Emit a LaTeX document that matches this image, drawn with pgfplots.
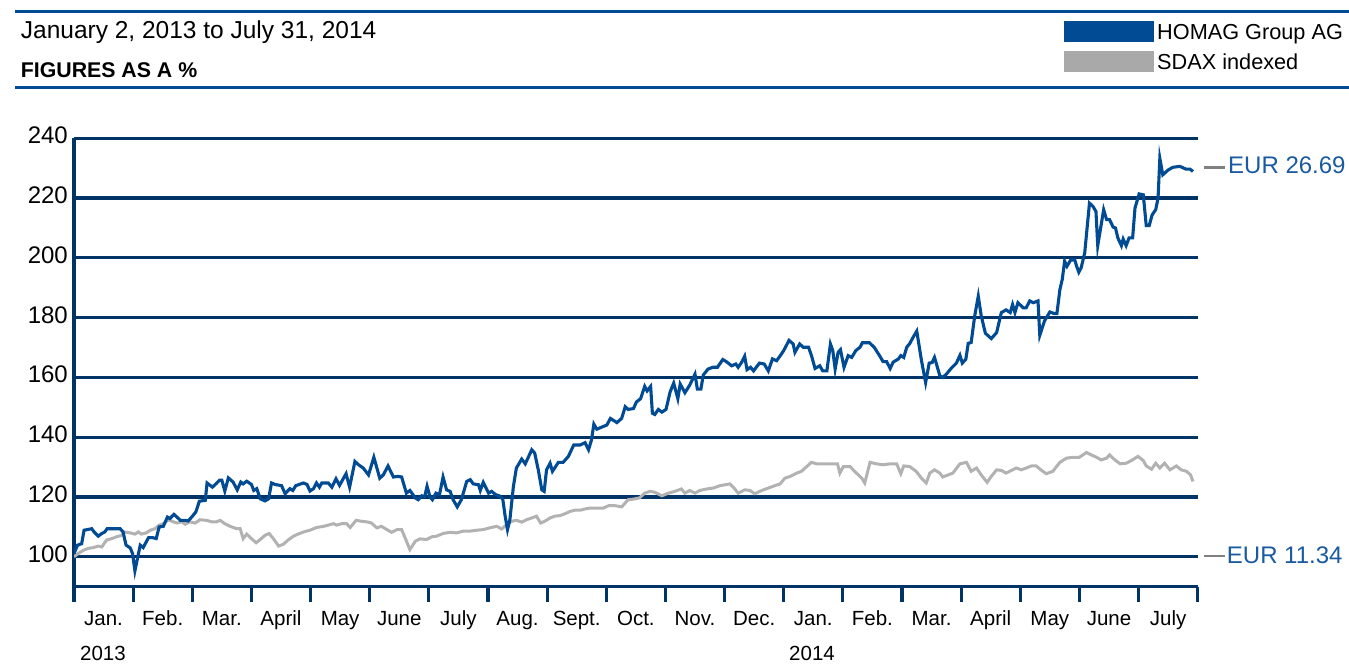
\documentclass[border=0pt]{standalone}
\usepackage{fontspec}
\setmainfont{Liberation Sans}
\usepackage{pgfplots}
\pgfplotsset{compat=1.18}
\definecolor{navy}{RGB}{0,51,102}
\definecolor{hblue}{RGB}{0,75,147}
\definecolor{sgray}{RGB}{178,178,178}
\definecolor{lgray}{RGB}{169,169,169}
\definecolor{eurblue}{RGB}{26,90,160}
\definecolor{dashgray}{RGB}{128,128,128}

\pgfplotstableread{
m v
0 101.1
0.06 103.9
0.13 104.4
0.17 108.9
0.30 109.4
0.34 108.3
0.41 106.9
0.47 107.8
0.52 108.3
0.56 109.4
0.78 109.4
0.83 108.3
0.88 103.9
0.95 103.0
0.99 101.1
1.03 95.3
1.12 103.9
1.17 103.1
1.26 106.4
1.33 106.4
1.39 106.1
1.44 110.0
1.51 110.2
1.58 113.3
1.62 112.8
1.69 114.2
1.74 113.3
1.80 112.2
1.88 112.2
1.93 112.0
1.99 113.3
2.06 115.0
2.12 118.6
2.22 118.9
2.25 124.7
2.34 123.3
2.40 124.4
2.46 125.6
2.50 125.6
2.55 122.0
2.61 126.4
2.69 125.0
2.76 122.4
2.82 125.0
2.86 124.4
2.92 125.3
3.00 124.2
3.04 122.2
3.09 122.8
3.15 119.4
3.23 118.7
3.29 119.4
3.34 124.7
3.40 124.2
3.51 123.8
3.57 121.1
3.65 122.8
3.70 122.2
3.75 123.8
3.88 124.7
3.94 124.2
3.99 122.0
4.05 122.8
4.10 124.7
4.15 123.3
4.19 124.7
4.30 124.7
4.36 123.3
4.43 126.1
4.49 123.9
4.60 127.8
4.66 123.3
4.75 131.9
4.81 130.8
4.89 129.7
4.98 127.4
5.07 133.3
5.17 126.3
5.23 127.4
5.31 130.4
5.40 126.7
5.48 126.9
5.54 126.7
5.62 121.3
5.68 122.2
5.77 119.7
5.82 119.1
5.88 120.4
5.93 120.2
5.97 123.6
6.02 120.0
6.06 119.1
6.12 121.3
6.18 120.8
6.24 126.7
6.30 122.4
6.36 121.9
6.41 119.1
6.48 116.7
6.55 119.1
6.64 125.2
6.70 125.8
6.75 124.4
6.84 124.1
6.87 122.2
6.92 124.9
7.01 121.3
7.06 121.9
7.13 120.8
7.19 120.4
7.25 119.3
7.29 113.6
7.33 109.1
7.37 112.4
7.43 123.6
7.48 129.7
7.57 132.7
7.63 131.1
7.74 135.8
7.79 134.7
7.85 129.1
7.91 122.4
7.95 121.9
7.99 129.1
8.05 131.3
8.09 128.6
8.19 131.6
8.27 131.6
8.36 133.6
8.39 134.9
8.45 137.4
8.56 137.4
8.64 138.2
8.70 135.8
8.75 139.1
8.79 144.4
8.84 142.7
8.95 143.6
9.01 144.1
9.07 146.3
9.18 144.9
9.26 146.3
9.32 150.2
9.37 149.3
9.46 149.6
9.51 151.8
9.58 152.9
9.65 157.0
9.69 155.5
9.75 157.0
9.78 148.0
9.82 147.6
9.88 149.3
9.94 148.4
10.01 149.3
10.08 155.2
10.14 158.1
10.21 152.9
10.25 157.8
10.33 154.9
10.41 157.4
10.50 161.1
10.54 156.1
10.60 156.1
10.64 160.8
10.72 162.8
10.80 163.4
10.88 163.4
10.97 166.0
11.03 165.3
11.12 163.9
11.19 164.5
11.23 163.4
11.29 165.1
11.34 167.1
11.38 162.6
11.44 163.4
11.49 162.2
11.59 164.8
11.67 164.5
11.74 162.2
11.81 166.2
11.88 165.6
11.95 167.5
12.00 169.0
12.09 172.4
12.16 171.2
12.19 168.4
12.27 171.2
12.33 170.1
12.42 170.1
12.47 167.3
12.53 163.0
12.61 163.9
12.66 162.2
12.73 162.2
12.79 171.2
12.83 169.0
12.87 162.8
12.92 168.4
12.96 169.3
13.02 163.4
13.09 167.3
13.15 166.7
13.22 169.0
13.29 170.1
13.33 171.6
13.45 171.6
13.53 170.1
13.62 167.3
13.68 165.3
13.74 165.3
13.80 163.0
13.85 165.1
13.94 166.2
13.98 167.3
14.03 166.7
14.08 170.1
14.13 171.3
14.19 173.5
14.25 175.5
14.33 165.6
14.40 158.3
14.46 164.8
14.51 165.0
14.55 166.7
14.64 160.6
14.69 160.0
14.75 161.1
14.83 163.0
14.92 164.8
14.98 167.4
15.02 164.8
15.08 166.1
15.12 171.4
15.17 171.7
15.23 180.6
15.29 187.2
15.34 180.6
15.41 174.8
15.51 173.0
15.60 175.0
15.68 181.7
15.76 182.6
15.83 181.7
15.87 184.4
15.91 181.7
15.96 185.0
16.05 183.3
16.10 183.3
16.16 185.6
16.22 185.0
16.30 185.6
16.33 174.1
16.41 178.9
16.50 181.9
16.57 181.4
16.62 181.4
16.67 189.4
16.71 192.8
16.75 198.9
16.79 197.2
16.85 199.2
16.92 199.4
16.95 197.4
16.99 195.2
17.03 196.7
17.09 201.7
17.17 218.3
17.23 217.2
17.28 215.5
17.31 204.1
17.41 216.1
17.46 212.8
17.51 212.8
17.57 210.3
17.61 210.0
17.65 206.7
17.71 204.1
17.74 206.3
17.79 204.1
17.84 206.7
17.90 206.7
17.94 216.7
18.01 221.4
18.08 221.1
18.13 210.8
18.18 210.8
18.23 214.4
18.29 216.1
18.33 220.0
18.36 233.3
18.41 227.8
18.50 229.4
18.58 230.3
18.70 230.6
18.80 229.7
18.87 229.7
18.92 228.9
}\homag

\pgfplotstableread{
m v
0 100.0
0.07 101.1
0.16 102.2
0.24 102.8
0.33 103.1
0.41 103.6
0.47 103.3
0.55 105.6
0.64 106.1
0.72 106.7
0.81 107.2
0.86 108.3
0.95 108.0
1.03 107.6
1.09 108.3
1.14 107.6
1.22 108.0
1.29 108.9
1.37 109.4
1.44 110.6
1.51 111.1
1.60 112.4
1.68 111.7
1.74 111.3
1.82 111.7
1.88 110.9
1.96 111.7
2.05 111.3
2.13 112.4
2.24 112.2
2.33 111.7
2.41 111.7
2.47 112.2
2.55 111.1
2.64 110.2
2.75 109.4
2.81 109.4
2.86 106.1
2.92 107.6
3.00 106.1
3.08 104.7
3.15 105.8
3.23 107.2
3.30 107.8
3.37 106.1
3.46 103.6
3.54 104.2
3.62 105.6
3.71 106.9
3.79 107.6
3.88 108.3
3.99 108.9
4.10 109.8
4.22 110.2
4.30 110.6
4.39 111.1
4.44 110.6
4.53 111.1
4.61 111.1
4.67 109.8
4.77 112.2
4.86 111.9
4.98 111.6
5.03 111.3
5.12 109.7
5.20 110.2
5.29 109.1
5.37 108.2
5.46 109.1
5.54 109.1
5.61 105.8
5.68 102.4
5.77 105.2
5.85 106.0
5.96 105.8
6.05 106.7
6.13 106.9
6.24 107.8
6.36 108.2
6.47 108.0
6.58 108.6
6.70 108.6
6.81 108.9
6.92 109.1
7.03 109.7
7.15 110.2
7.23 109.3
7.32 110.8
7.40 111.9
7.48 112.2
7.57 111.6
7.65 112.4
7.74 113.0
7.82 113.6
7.89 111.3
7.96 111.9
8.05 113.0
8.13 113.6
8.22 113.8
8.30 114.4
8.39 115.2
8.47 115.6
8.56 115.6
8.64 116.0
8.72 116.3
8.84 116.3
8.95 116.3
9.04 117.1
9.15 117.1
9.26 116.7
9.37 119.1
9.46 119.3
9.56 119.7
9.65 121.3
9.74 121.9
9.82 121.6
9.94 120.4
10.05 121.3
10.16 121.9
10.27 122.7
10.33 121.3
10.41 122.2
10.50 121.3
10.58 122.2
10.70 122.7
10.81 123.0
10.92 123.8
11.01 124.1
11.09 124.4
11.16 123.0
11.23 121.3
11.34 122.4
11.43 122.2
11.51 121.1
11.63 122.2
11.74 123.0
11.85 123.8
11.94 124.4
12.02 126.3
12.11 126.9
12.22 128.0
12.30 128.6
12.39 130.2
12.47 131.6
12.56 131.1
12.67 131.1
12.81 131.1
12.91 131.1
12.95 128.0
13.01 130.2
13.12 130.2
13.23 128.0
13.32 126.3
13.37 124.7
13.46 131.6
13.57 131.1
13.68 130.8
13.80 131.1
13.91 131.1
13.98 127.8
14.03 130.4
14.13 130.2
14.24 128.6
14.33 126.3
14.41 124.7
14.47 128.0
14.55 129.1
14.64 128.0
14.69 126.7
14.78 127.4
14.86 128.0
14.98 131.1
15.09 131.6
15.17 128.6
15.26 129.7
15.34 127.4
15.44 124.9
15.51 126.9
15.60 129.1
15.68 128.9
15.76 128.0
15.85 128.9
15.93 129.7
16.02 129.1
16.10 129.7
16.19 130.4
16.27 130.4
16.36 128.9
16.44 127.8
16.55 128.6
16.67 131.6
16.78 133.0
16.89 133.3
17.00 133.3
17.12 134.9
17.20 134.1
17.29 133.3
17.37 132.4
17.46 133.0
17.51 134.1
17.60 132.4
17.69 131.1
17.79 131.3
17.88 132.2
17.99 133.6
18.08 132.2
18.13 130.4
18.22 129.3
18.29 131.3
18.36 129.7
18.44 131.3
18.53 129.1
18.64 130.4
18.72 129.1
18.81 128.6
18.88 127.4
18.92 125.2
}\sdax

\begin{document}
\begin{tikzpicture}
\path[use as bounding box] (0,0) rectangle (1349bp,-664bp);
% header rules
\draw[hblue, line width=2.9bp] (15bp,-11.3bp) -- (1349bp,-11.3bp);
\draw[hblue, line width=3.1bp] (15bp,-87.2bp) -- (1349bp,-87.2bp);
% header text
\node[anchor=base west, inner sep=0pt, font=\fontsize{24.5bp}{28bp}\selectfont] at (20.7bp,-38bp) {January 2, 2013 to July 31, 2014};
\node[anchor=base west, inner sep=0pt, font=\fontsize{21.3bp}{24bp}\selectfont\bfseries] at (20.7bp,-77.3bp) {FIGURES AS A \%};
% legend
\fill[hblue] (1064bp,-21bp) rectangle (1154bp,-42bp);
\fill[lgray] (1064bp,-51bp) rectangle (1154bp,-72bp);
\node[anchor=base west, inner sep=0pt, font=\fontsize{21.7bp}{25bp}\selectfont] at (1157bp,-39.3bp) {HOMAG Group AG};
\node[anchor=base west, inner sep=0pt, font=\fontsize{21.7bp}{25bp}\selectfont] at (1157bp,-69.3bp) {SDAX indexed};

\begin{axis}[
  at={(74bp,-586.7bp)}, anchor=south west,
  width=1123.7bp, height=448.4bp, scale only axis,
  xmin=0, xmax=19, ymin=90, ymax=240,
  axis x line=bottom, axis y line=left,
  axis line style={navy, line width=3.2bp, -},
  ytick={100,120,...,240},
  ymajorgrids=true,
  major grid style={navy, line width=3.2bp},
  ytick style={draw=none},
  yticklabel style={anchor=base east, inner sep=0pt, xshift=-6bp, yshift=-5.5bp,
    font=\fontsize{24bp}{28bp}\selectfont},
  /pgf/number format/assume math mode=true,
  xtick={0.5,1.5,...,18.5},
  xticklabels={Jan.,Feb.,Mar.,April,May,June,July,Aug.,Sept.,Oct.,Nov.,Dec.,Jan.,Feb.,Mar.,April,May,June,July},
  major tick length=0pt,
  xticklabel style={anchor=base, inner sep=0pt, yshift=-38.3bp,
    font=\fontsize{20.5bp}{24bp}\selectfont},
  extra x ticks={0,1,...,19},
  extra x tick labels={},
  extra x tick style={tick align=outside, major tick length=15bp,
    xtick style={draw=navy, line width=3.2bp}},
]
\addplot[sgray, line width=3bp] table[x=m, y=v] {\sdax};
\addplot[hblue, line width=3.1bp] table[x=m, y=v] {\homag};
\end{axis}

% year labels
\node[anchor=base, inner sep=0pt, font=\fontsize{20.5bp}{24bp}\selectfont] at (103bp,-660.7bp) {2013};
\node[anchor=base, inner sep=0pt, font=\fontsize{20.5bp}{24bp}\selectfont] at (812bp,-660.7bp) {2014};
% end labels
\draw[dashgray, line width=2.6bp] (1204bp,-167.3bp) -- (1225bp,-167.3bp);
\node[anchor=base west, inner sep=0pt, text=eurblue, font=\fontsize{24bp}{28bp}\selectfont] at (1228bp,-173.3bp) {EUR 26.69};
\draw[dashgray, line width=2.6bp] (1204bp,-556bp) -- (1225bp,-556bp);
\node[anchor=base west, inner sep=0pt, text=eurblue, font=\fontsize{24bp}{28bp}\selectfont] at (1226.7bp,-563.3bp) {EUR 11.34};
\end{tikzpicture}
\end{document}
